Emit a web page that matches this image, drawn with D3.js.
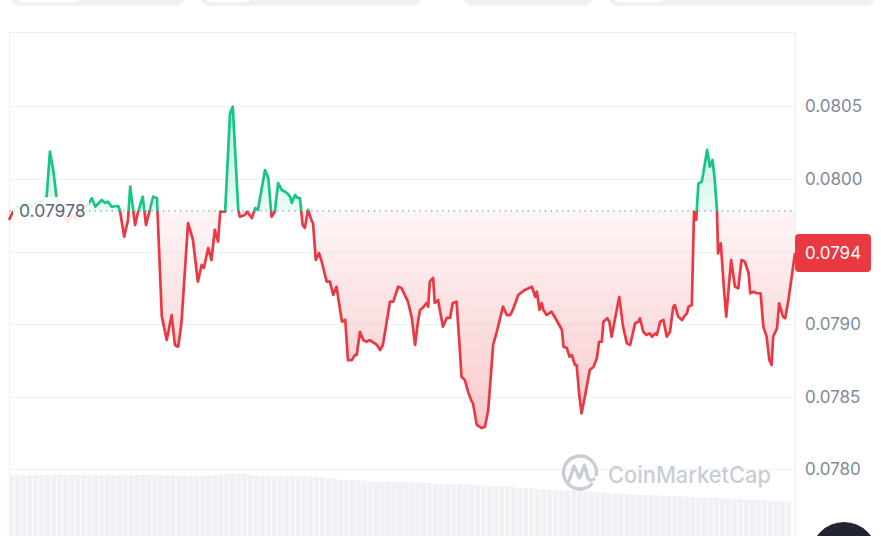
<!DOCTYPE html>
<html><head><meta charset="utf-8">
<script src="https://cdn.jsdelivr.net/npm/d3@7"></script>
<style>
html,body{margin:0;padding:0;background:#fff;overflow:hidden}
svg{display:block;font-family:Inter,"Noto Sans",sans-serif}
</style>
</head><body>
<svg id="c" width="881" height="536"></svg>
<script>
// ---- data ----
const minutes = [
0,7,15,24,33,42,51,60,69,75,
81,87,93,101,108,115,123,130,137,145,
152,158,170,176,181,188,200,203,211,218,
222,231,236,245,251,264,271,280,289,298,
304,310,316,328,337,346,353,357,365,371,
377,383,387,396,405,410,420,423,432,436,
445,451,456,469,475,481,487,493,500,509,
515,518,524,529,533,538,542,548,555,557,
562,568,573,582,588,594,600,610,616,621,
628,634,637,643,649,655,661,674,680,685,
698,704,713,719,731,738,744,749,753,758,
765,768,771,777,780,786,795,802,808,813,
820,826,829,835,841,848,850,857,866,872,
878,887,893,900,905,912,918,923,933,945,
958,964,967,972,976,979,985,994,1003,1013,
1016,1022,1027,1031,1037,1040,1045,1049,1055,1064,
1071,1077,1081,1086,1089,1096,1100,1104,1118,1125,
1132,1138,1147,1153,1156,1162,1168,1174,1178,1184,
1187,1193,1199,1205,1211,1217,1220,1226,1233,1239,
1242,1245,1251,1255,1259,1263,1269,1272,1279,1284,
1289,1293,1297,1299,1304,1310,1314,1323,1330,1336,
1342,1348,1355,1358,1364,1370,1377,1382,1388,1393,
1397,1400,1407,1411,1418,1422,1428,1440];

const prices = [
0.079718,0.079773,0.079814,0.079793,0.079828,0.079807,0.079835,0.079848,0.079878,0.080188,
0.080062,0.079878,0.079787,0.079745,0.079704,0.079752,0.079725,0.079759,0.079793,0.079828,
0.079867,0.079809,0.079855,0.079835,0.079844,0.079809,0.079814,0.079787,0.079603,0.079718,
0.079947,0.079683,0.079766,0.079878,0.079683,0.079878,0.079869,0.079052,0.078891,0.079063,
0.078857,0.078845,0.079008,0.079697,0.079580,0.079293,0.079408,0.079387,0.079525,0.079442,
0.079649,0.079568,0.079775,0.079775,0.080455,0.080498,0.079787,0.079740,0.079752,0.079775,
0.079731,0.079800,0.079787,0.080062,0.080007,0.079740,0.079775,0.079972,0.079924,0.079904,
0.079878,0.079835,0.079890,0.079869,0.079869,0.079683,0.079663,0.079787,0.079706,0.079697,
0.079442,0.079490,0.079430,0.079293,0.079293,0.079201,0.079258,0.079017,0.079029,0.078753,
0.078753,0.078788,0.078788,0.078948,0.078891,0.078879,0.078891,0.078857,0.078822,0.078857,
0.079155,0.079155,0.079258,0.079249,0.079155,0.079043,0.078857,0.079008,0.079098,0.079112,
0.079146,0.079121,0.079293,0.079318,0.079146,0.079167,0.078983,0.079043,0.079043,0.079146,
0.079155,0.078822,0.078638,0.078616,0.078535,0.078466,0.078457,0.078306,0.078285,0.078294,
0.078409,0.078857,0.078939,0.079043,0.079121,0.079063,0.079063,0.079098,0.079201,0.079236,
0.079258,0.079189,0.079224,0.079098,0.079146,0.079098,0.079063,0.079086,0.079029,0.078960,
0.078845,0.078836,0.078776,0.078788,0.078719,0.078719,0.078501,0.078386,0.078501,0.078685,
0.078707,0.078765,0.078879,0.078879,0.079017,0.079041,0.079017,0.078914,0.079189,0.078983,
0.078868,0.078857,0.079006,0.079017,0.079041,0.078948,0.078926,0.078937,0.078914,0.078937,
0.078926,0.079017,0.079029,0.078914,0.078948,0.079121,0.079132,0.079052,0.079029,0.079063,
0.079075,0.079121,0.079132,0.079775,0.079718,0.079970,0.079981,0.080039,0.080200,0.080085,
0.080131,0.079993,0.079787,0.079488,0.079557,0.079236,0.079052,0.079442,0.079258,0.079247,
0.079442,0.079430,0.079351,0.079213,0.079224,0.079213,0.079213,0.078983,0.078914,0.078753,
0.078719,0.078914,0.078972,0.079144,0.079052,0.079041,0.079167,0.079490];

const volumes = [
84.5,85,85,84.8,85,85.3,85,85.5,85.6,85.4,85.2,85.3,85,84.8,85,85.2,85,84.9,85,85.1,85,
85.2,85.6,85.5,85.3,85,84.8,84.7,84.5,
84.3,84.2,84.4,84.5,84.6,84.8,85.5,86,
86.7,86.5,86,85,84.5,
84.2,84,84.1,84,83.9,84,84.1,84,83.8,83.5,83,82,81.3,
80.3,80,80,79.8,79.5,
78.3,78,78,78.1,78,77.9,78,78,77.8,77.5,77,
76.3,76,76.1,76,75.8,75.6,75.2,74.8,
74.2,74,74,73.8,73.5,73,
72,71.8,71.5,71.3,71,70.5,
70,69.5,69.8,70,69.5,69,
68.5,68,67.5,67,66.5,66.2,65.8,65.5,65.2,65,64.8,
64.5,64.2,64,63.8,63.5,63.3,63,62.8,62.5,62.2,62,
61.6,61.3,61,60.8,60.5,60.2,60,59.7,59.4,59.1,58.8,58.5];

const yTicks = [0.0780, 0.0785, 0.0790, 0.0795, 0.0800, 0.0805];
const basePrice = 0.07978;
const baseLabel = "0.07978";
const lastLabel = "0.0794";
const watermarkText = "CoinMarketCap";

// ---- drawing ----
const data = minutes.map((m, i) => ({m, p: prices[i]}));
const svg = d3.select("#c");
const W = 881, H = 536;
const L = 9, R = 795, T = 32;

const x = d3.scaleLinear().domain([0, 1440]).range([L, R]);
const y = d3.scaleLinear().domain([0.0780, 0.0805]).range([469.4, 106.4]);
const vx = d3.scaleBand().domain(d3.range(volumes.length)).range([L, 791]).paddingInner(0.12);
const vy = d3.scaleLinear().domain([0, 100]).range([560, 460]);

const GREEN = "#16c784", RED = "#ea3943";
const by = y(basePrice);

const defs = svg.append("defs");
const gR = defs.append("linearGradient").attr("id", "gRed")
  .attr("gradientUnits", "userSpaceOnUse").attr("x1", 0).attr("x2", 0).attr("y1", by).attr("y2", 430);
gR.append("stop").attr("offset", 0).attr("stop-color", RED).attr("stop-opacity", 0.05);
gR.append("stop").attr("offset", 1).attr("stop-color", RED).attr("stop-opacity", 0.27);
const gG = defs.append("linearGradient").attr("id", "gGreen")
  .attr("gradientUnits", "userSpaceOnUse").attr("x1", 0).attr("x2", 0).attr("y1", by).attr("y2", 105);
gG.append("stop").attr("offset", 0).attr("stop-color", GREEN).attr("stop-opacity", 0.08);
gG.append("stop").attr("offset", 1).attr("stop-color", GREEN).attr("stop-opacity", 0.3);
defs.append("clipPath").attr("id", "cAbove").append("rect").attr("x", 0).attr("y", 0).attr("width", W).attr("height", by);
defs.append("clipPath").attr("id", "cBelow").append("rect").attr("x", 0).attr("y", by).attr("width", W).attr("height", H - by);

// top pills (tab bar, cut off)
const pills = [[10,185],[200,422],[463,593],[608,876]];
svg.selectAll("rect.pill").data(pills).join("rect").attr("class","pill")
  .attr("x", d => d[0]).attr("y", -22).attr("width", d => d[1]-d[0]).attr("height", 27.7)
  .attr("rx", 10).attr("fill", "#eff2f5");
const inner = [[15,82],[203,253],[612,666]];
svg.selectAll("rect.inner").data(inner).join("rect").attr("class","inner")
  .attr("x", d => d[0]).attr("y", -22).attr("width", d => d[1]-d[0]).attr("height", 24.7)
  .attr("rx", 8).attr("fill", "#fff").attr("stroke","#e6e9ee").attr("stroke-width",0.6);

// frame
svg.append("path").attr("d", `M${L+0.5},${H} V${T+0.5} H${R+0.5} V${H}`)
  .attr("fill", "none").attr("stroke", "#eceff3").attr("stroke-width", 1.2);

// gridlines
svg.selectAll("line.grid").data(yTicks).join("line").attr("class","grid")
  .attr("x1", L).attr("x2", R).attr("y1", d => Math.round(y(d)) + 0.5).attr("y2", d => Math.round(y(d)) + 0.5)
  .attr("stroke", "#eff2f5").attr("stroke-width", 1);

// volume bars
svg.selectAll("rect.vol").data(volumes).join("rect").attr("class","vol")
  .attr("x", (d, i) => vx(i)).attr("width", vx.bandwidth())
  .attr("y", d => vy(d)).attr("height", d => H + 10 - vy(d))
  .attr("fill", "#eff1f5");

// watermark
const wm = svg.append("g").attr("fill", "none").attr("stroke", "#c9cdd7").attr("stroke-width", 3.4)
  .attr("stroke-linecap", "round").attr("stroke-linejoin", "round");
wm.append("path").attr("d", d3.arc()({innerRadius: 16.5, outerRadius: 16.5, startAngle: 0.75*Math.PI, endAngle: 2.55*Math.PI}))
  .attr("transform", "translate(580,472.5)");
wm.append("path").attr("d", "M569,481 L574,466 L579.5,478 L584.5,465 L588,478 Q590,482 594,479");
svg.append("text").attr("x", 608).attr("y", 483).attr("font-size", 23).attr("font-weight", 500)
  .attr("fill", "#c9cdd7").attr("textLength", 163).attr("lengthAdjust", "spacingAndGlyphs").text(watermarkText);

// areas
const area = d3.area().x(d => x(d.m)).y0(by).y1(d => y(d.p));
svg.append("path").datum(data).attr("d", area).attr("fill", "url(#gGreen)").attr("clip-path", "url(#cAbove)");
svg.append("path").datum(data).attr("d", area).attr("fill", "url(#gRed)").attr("clip-path", "url(#cBelow)");

// baseline dotted
svg.append("line").attr("x1", L).attr("x2", R).attr("y1", by).attr("y2", by)
  .attr("stroke", "#8f97a8").attr("stroke-width", 1.3).attr("stroke-dasharray", "1.4 4.3");

// price line
const line = d3.line().x(d => x(d.m)).y(d => y(d.p));
svg.append("path").datum(data).attr("d", line).attr("fill", "none").attr("stroke", GREEN)
  .attr("stroke-width", 2.7).attr("stroke-linejoin", "round").attr("clip-path", "url(#cAbove)");
svg.append("path").datum(data).attr("d", line).attr("fill", "none").attr("stroke", RED)
  .attr("stroke-width", 2.7).attr("stroke-linejoin", "round").attr("clip-path", "url(#cBelow)");

// baseline label
svg.append("rect").attr("x", 13).attr("y", 197).attr("width", 76).attr("height", 30)
  .attr("fill", "#fff").attr("fill-opacity", 0.88);
svg.append("text").attr("x", 19).attr("y", by).attr("dy", "0.36em").attr("font-size", 17.5)
  .attr("fill", "#58667e").text(baseLabel);

// right axis
const axis = d3.axisRight(y).tickValues(yTicks).tickFormat(d3.format(".4f")).tickSize(0).tickPadding(10);
const ag = svg.append("g").attr("transform", `translate(${R},0)`).call(axis);
ag.select(".domain").remove();
ag.selectAll("text").attr("font-size", 17).attr("fill", "#808a9d").attr("font-family", "Inter, sans-serif");

// last price tag
const last = data[data.length - 1];
const ty = y(last.p);
svg.append("rect").attr("x", R).attr("y", ty - 19).attr("width", 76).attr("height", 38).attr("rx", 4).attr("fill", RED);
svg.append("text").attr("x", 805).attr("y", ty).attr("dy", "0.36em").attr("font-size", 17)
  .attr("fill", "#fff").text(lastLabel);

// dark currency button (cut off)
svg.append("circle").attr("cx", 844).attr("cy", 555).attr("r", 33).attr("fill", "#222531");
</script>
</body></html>
